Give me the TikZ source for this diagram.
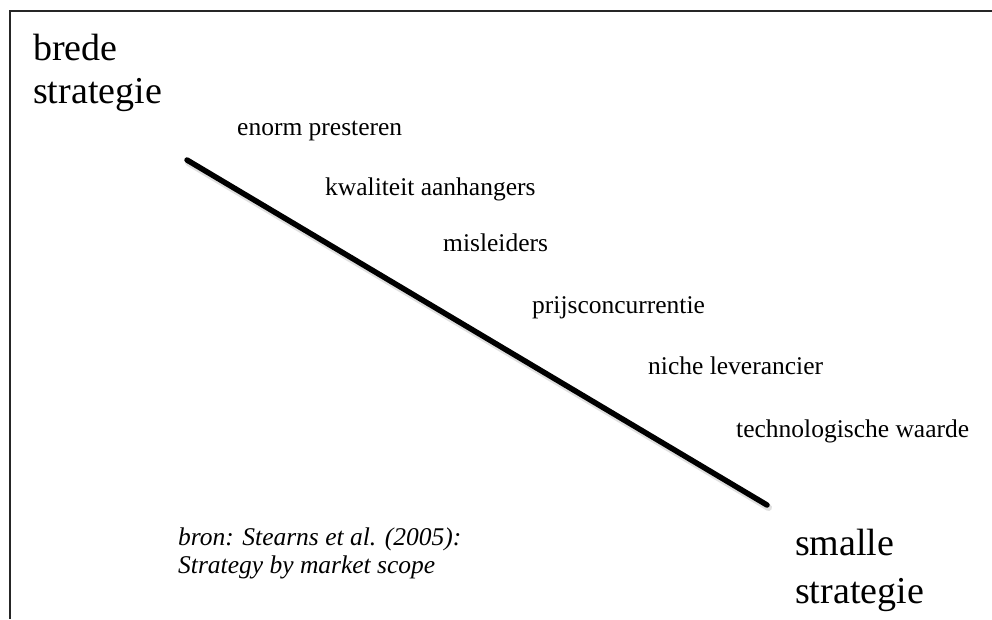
\documentclass[tikz,border=0pt]{standalone}
\usepackage{fontspec}
\setmainfont{Liberation Serif}
\begin{document}
\begin{tikzpicture}[x=1pt,y=-1pt,
  big/.style={anchor=base west,inner sep=0pt,font=\fontsize{38}{43}\selectfont},
  lbl/.style={anchor=base west,inner sep=0pt,font=\fontsize{25.5}{30}\selectfont},
  src/.style={anchor=base west,inner sep=0pt,font=\fontsize{25.5}{30}\selectfont\itshape},
  frame/.style={draw=black!85,line width=2pt},
  scope line/.style={draw=black,line width=5.5pt,line cap=round}]
\useasboundingbox (0,0) rectangle (992,619);
\coordinate (tr) at (992,11);
\coordinate (tl) at (10,11);
\coordinate (bl) at (10,619);
\draw[frame] (tr) -- (tl) -- (bl);
\coordinate (s) at (187,160);
\coordinate (e) at (767,505);
\draw[draw=black!25,line width=7pt,line cap=round,opacity=0.5] ([shift={(1.5,2.5)}]s) -- ([shift={(1.5,2.5)}]e);
\draw[scope line] (s) -- (e);
\node[big] (b1) at (33,60) {brede};
\node[big] (b2) at (33,103) {strategie};
\node[big] (s1) at (795,555) {smalle};
\node[big] (s2) at (795,603) {strategie};
\node[lbl] (l1) at (237,135) {enorm presteren};
\node[lbl] (l2) at (325,195) {kwaliteit aanhangers};
\node[lbl] (l3) at (443,251) {misleiders};
\node[lbl] (l4) at (532,313) {prijsconcurrentie};
\node[lbl] (l5) at (648,374) {niche leverancier};
\node[lbl] (l6) at (736,437) {technologische waarde};
\node[src] (r1) at (178,545) {bron: Stearns et al. (2005):};
\node[src] (r2) at (178,573) {Strategy by market scope};
\end{tikzpicture}
\end{document}
